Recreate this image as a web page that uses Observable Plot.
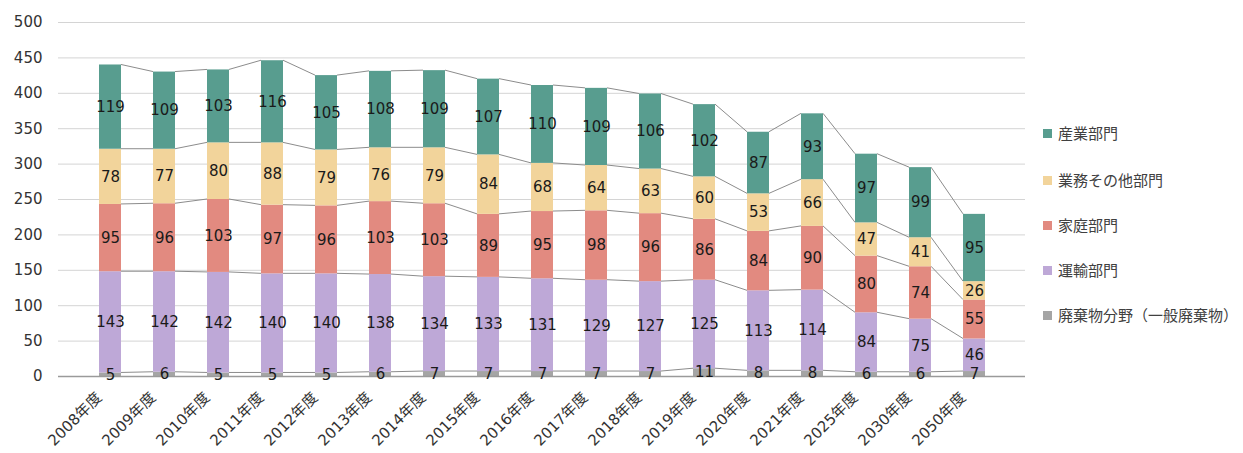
<!DOCTYPE html>
<html><head><meta charset="utf-8">
<script src="https://cdn.jsdelivr.net/npm/d3@7"></script>
<script src="https://cdn.jsdelivr.net/npm/@observablehq/plot@0.6"></script>
<style>
body{margin:0;background:#fff;}
#wrap{position:relative;width:1243px;height:453px;overflow:hidden;}
#legend{position:absolute;left:0;top:0;font-family:"Noto Sans CJK JP","DejaVu Sans",sans-serif;font-size:15px;color:#404040;}
.item{position:absolute;white-space:nowrap;display:flex;align-items:center;line-height:20px;}
.sw{width:9px;height:9px;margin-right:6px;}
</style></head><body>
<div id="wrap"><div id="chart"></div><div id="legend"></div></div>
<script>
const years = ["2008年度","2009年度","2010年度","2011年度","2012年度","2013年度","2014年度","2015年度","2016年度","2017年度","2018年度","2019年度","2020年度","2021年度","2025年度","2030年度","2050年度"];
const waste     = [5,6,5,5,5,6,7,7,7,7,7,11,8,8,6,6,7];
const transport = [143,142,142,140,140,138,134,133,131,129,127,125,113,114,84,75,46];
const household = [95,96,103,97,96,103,103,89,95,98,96,86,84,90,80,74,55];
const business  = [78,77,80,88,79,76,79,84,68,64,63,60,53,66,47,41,26];
const industry  = [119,109,103,116,105,108,109,107,110,109,106,102,87,93,97,99,95];
const seriesNames = ["廃棄物分野（一般廃棄物）","運輸部門","家庭部門","業務その他部門","産業部門"];
const yTicks = [0,50,100,150,200,250,300,350,400,450,500];

const seriesValues = [waste, transport, household, business, industry];
const seriesColors = ["#a5a5a5","#bea8d7","#e28a80","#f2d49b","#589d8f"];
const FONT = '"DejaVu Sans","Noto Sans CJK JP",sans-serif';

// build stacked table
const rows = [];
const cum = years.map(() => [0]);
years.forEach((yr, i) => {
  let acc = 0;
  seriesValues.forEach((vals, k) => {
    const v = vals[i];
    rows.push({year: yr, series: seriesNames[k], value: v, y1: acc, y2: acc + v, mid: acc + v / 2});
    acc += v;
    cum[i].push(acc);
  });
});

const connectors = (index, scales) => {
  const g = d3.create("svg:g").attr("fill", "none").attr("stroke", "#8c8c8c").attr("stroke-width", 1);
  const x = scales.x, y = scales.y;
  const bw = x.bandwidth ? x.bandwidth() : 0;
  for (let k = 1; k <= seriesValues.length; k++) {
    for (let i = 0; i < years.length - 1; i++) {
      g.append("line")
        .attr("x1", x(years[i]) + bw).attr("y1", y(cum[i][k]))
        .attr("x2", x(years[i + 1])).attr("y2", y(cum[i + 1][k]));
    }
  }
  return g.node();
};

const chart = Plot.plot({
  width: 1243,
  height: 453,
  marginLeft: 58,
  marginRight: 218,
  marginTop: 22,
  marginBottom: 77,
  style: {fontFamily: FONT, fontSize: "15px", background: "#fff", overflow: "visible"},
  x: {domain: years, padding: 0.6, label: null, axis: null},
  y: {domain: [0, 500], label: null, axis: null},
  color: {domain: seriesNames, range: seriesColors},
  marks: [
    Plot.ruleY(yTicks.slice(1), {stroke: "#d4d4d4", strokeWidth: 1}),
    connectors,
    Plot.rectY(rows, {x: "year", y1: "y1", y2: "y2", fill: "series"}),
    Plot.ruleY([0], {stroke: "#9a9a9a", strokeWidth: 1.5}),
    Plot.text(rows, {x: "year", y: "mid", text: d => String(d.value), fill: "#1a1a1a", fontSize: 15}),
    Plot.axisY({ticks: yTicks, tickSize: 0, tickPadding: 16, color: "#333", fontSize: 15, label: null}),
    Plot.text(years, {x: d => d, frameAnchor: "bottom", dx: -8, dy: 22, rotate: -45, textAnchor: "end", fill: "#333", fontSize: 15, fontFamily: FONT})
  ]
});
document.getElementById("chart").appendChild(chart);

// legend (top to bottom: reverse order of stack)
const legend = document.getElementById("legend");
const legendTops = [123, 170, 215, 260, 305];
seriesNames.slice().reverse().forEach((name, j) => {
  const k = seriesNames.length - 1 - j;
  const item = document.createElement("div");
  item.className = "item";
  item.style.left = "1043px";
  item.style.top = legendTops[j] + "px";
  const sw = document.createElement("span");
  sw.className = "sw";
  sw.style.background = seriesColors[k];
  const t = document.createElement("span");
  t.textContent = name;
  item.appendChild(sw); item.appendChild(t);
  legend.appendChild(item);
});
</script>
</body></html>
